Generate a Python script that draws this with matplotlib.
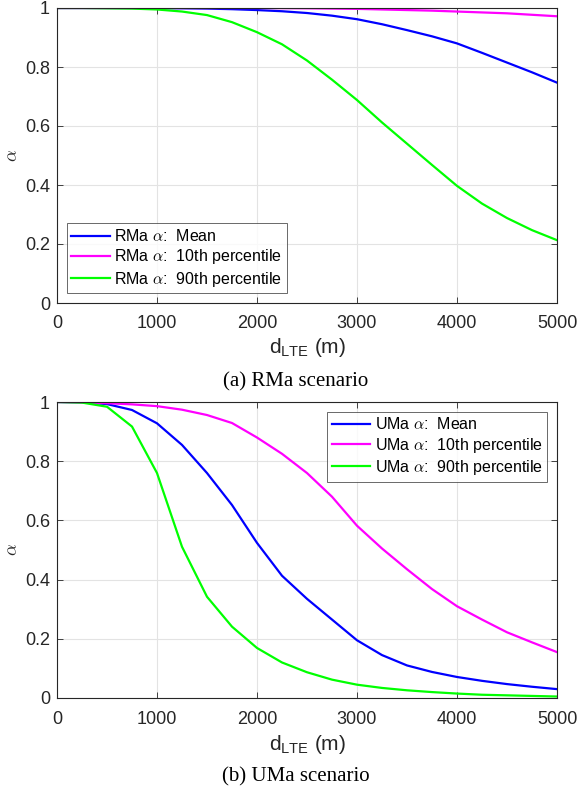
import numpy as np
import matplotlib.pyplot as plt
from matplotlib.font_manager import FontProperties

plt.rcParams['font.family'] = ['Liberation Sans', 'DejaVu Sans']
plt.rcParams['mathtext.fontset'] = 'custom'
plt.rcParams['mathtext.rm'] = 'Liberation Sans'

# distance d_LTE (m)
dist = [0, 250, 500, 750, 1000, 1250, 1500, 1750, 2000, 2250, 2500,
        2750, 3000, 3250, 3500, 3750, 4000, 4250, 4500, 4750, 5000]

# RMa scenario
rma_mean = [1.0, 1.0, 1.0, 1.0, 0.9995, 0.999, 0.998, 0.996, 0.993, 0.989, 0.983,
            0.974, 0.962, 0.945, 0.925, 0.904, 0.880, 0.848, 0.815, 0.782, 0.747]
rma_p10 = [1.0, 1.0, 1.0, 1.0, 1.0, 1.0, 1.0, 1.0, 1.0, 0.9995, 0.999,
           0.998, 0.997, 0.995, 0.993, 0.991, 0.988, 0.985, 0.982, 0.977, 0.972]
rma_p90 = [1.0, 1.0, 0.999, 0.998, 0.995, 0.988, 0.976, 0.952, 0.918, 0.877, 0.822,
           0.757, 0.688, 0.612, 0.540, 0.468, 0.397, 0.337, 0.288, 0.247, 0.213]

# UMa scenario
uma_mean = [1.0, 0.999, 0.993, 0.973, 0.928, 0.855, 0.760, 0.652, 0.524, 0.413, 0.335,
            0.265, 0.195, 0.145, 0.110, 0.088, 0.071, 0.058, 0.047, 0.038, 0.030]
uma_p10 = [1.0, 0.999, 0.996, 0.992, 0.986, 0.974, 0.956, 0.929, 0.880, 0.825, 0.760,
           0.680, 0.582, 0.505, 0.435, 0.368, 0.310, 0.265, 0.222, 0.188, 0.155]
uma_p90 = [1.0, 0.998, 0.984, 0.917, 0.760, 0.511, 0.342, 0.241, 0.169, 0.120, 0.087,
           0.062, 0.045, 0.034, 0.026, 0.020, 0.015, 0.011, 0.009, 0.007, 0.005]

labels = ['Mean', '10th percentile', '90th percentile']
colors = ['#0000ff', '#ff00ff', '#00ff00']

W, H = 578, 791
fig = plt.figure(figsize=(W/100, H/100), dpi=100)
ax1 = fig.add_axes([57/W, 1-303/H, 500/W, 295/H])
ax2 = fig.add_axes([57/W, 1-698/H, 500/W, 296/H])

leg_font = FontProperties(family='Liberation Sans', size=11.5, math_fontfamily='cm')

def draw(ax, series, name, loc, caption, cap_y, xlab_y):
    for s, lab, c in zip(series, labels, colors):
        ax.plot(dist, s, color=c, lw=1.6, label=name + r' $\alpha$:  ' + lab)
    ax.set_xlim(0, 5000)
    ax.set_ylim(0, 1)
    ax.set_xticks([0, 1000, 2000, 3000, 4000, 5000])
    ax.set_yticks([0, 0.2, 0.4, 0.6, 0.8, 1])
    ax.set_yticklabels(['0', '0.2', '0.4', '0.6', '0.8', '1'])
    ax.grid(True, color='#e3e3e3', lw=0.8)
    ax.set_axisbelow(True)
    ax.tick_params(direction='in', top=True, right=True, labelsize=13,
                   colors='#262626', length=4, width=0.6)
    ax.tick_params(axis='x', pad=9)
    ax.tick_params(axis='y', pad=5)
    for sp in ax.spines.values():
        sp.set_color('#262626')
        sp.set_linewidth(0.8)
    ax.set_xlabel(r'd$_{\mathrm{LTE}}$ (m)', fontsize=15, color='#262626')
    ax.xaxis.set_label_coords(0.5, xlab_y)
    ax.set_ylabel(r'$\alpha$', fontsize=13, color='#262626', math_fontfamily='cm',
                  va='center')
    ax.yaxis.set_label_coords(-0.088, 0.5)
    leg = ax.legend(loc=loc, prop=leg_font, frameon=True, fancybox=False,
                    borderaxespad=0.6, handlelength=2.4, handletextpad=0.3,
                    labelspacing=0.2, borderpad=0.3)
    leg.get_frame().set_edgecolor('#262626')
    leg.get_frame().set_linewidth(0.6)
    fig.text(0.5 + 7/W, cap_y, caption, ha='center', va='center',
             family='Liberation Serif', fontsize=15)

draw(ax1, [rma_mean, rma_p10, rma_p90], 'RMa', 'lower left', '(a) RMa scenario',
     1-382/H, -33/295)
draw(ax2, [uma_mean, uma_p10, uma_p90], 'UMa', 'upper right', '(b) UMa scenario',
     1-777/H, -35/296)

fig.savefig('out.png', dpi=100)
